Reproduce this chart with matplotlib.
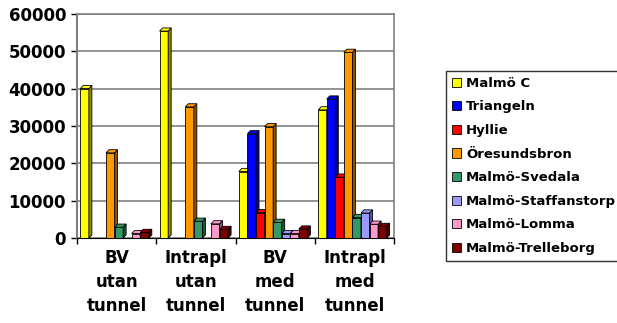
import numpy as np
import matplotlib.pyplot as plt
from matplotlib.patches import Polygon
from matplotlib.colors import to_rgb

plt.rcParams['font.family'] = ['DejaVu Sans']
plt.rcParams['font.weight'] = 'bold'

categories = ['BV\nutan\ntunnel', 'Intrapl\nutan\ntunnel', 'BV\nmed\ntunnel', 'Intrapl\nmed\ntunnel']
series = ['Malmö C', 'Triangeln', 'Hyllie', 'Öresundsbron', 'Malmö-Svedala',
          'Malmö-Staffanstorp', 'Malmö-Lomma', 'Malmö-Trelleborg']
colors = ['#FFFF00', '#0000FF', '#FF0000', '#FF9900', '#339966', '#9999FF', '#FF99CC', '#800000']

malmo_c = [40000, 55400, 17800, 34300]
triangeln = [0, 0, 27900, 37200]
hyllie = [0, 0, 6800, 16300]
oresund = [22800, 35100, 29800, 49700]
svedala = [2900, 4500, 4200, 5500]
staffanstorp = [0, 0, 1200, 6700]
lomma = [1200, 3800, 1200, 3700]
trelleborg = [1500, 2300, 2400, 3100]
values = [malmo_c, triangeln, hyllie, oresund, svedala, staffanstorp, lomma, trelleborg]

fig = plt.figure(figsize=(6.17, 3.23), dpi=100)
ax = fig.add_axes([0.125, 0.263, 0.514, 0.694])

x = np.arange(len(categories))
w = 0.108
dx, dy = 0.038, 850  # 3d depth offset

for j, (vals, c) in enumerate(zip(values, colors)):
    pos = x - 0.5 + 0.04 + w * (j + 0.5)
    ax.bar(pos, vals, w, color=c, edgecolor='black', linewidth=0.6, zorder=3,
           label=series[j])
    dark = tuple(v * 0.55 for v in to_rgb(c))
    for p, h in zip(pos, vals):
        if h <= 0:
            continue
        side = [(p + w / 2, 0), (p + w / 2 + dx, dy), (p + w / 2 + dx, h + dy), (p + w / 2, h)]
        top = [(p - w / 2, h), (p - w / 2 + dx, h + dy), (p + w / 2 + dx, h + dy), (p + w / 2, h)]
        ax.add_patch(Polygon(side, closed=True, facecolor=dark, edgecolor='black', lw=0.6, zorder=3))
        ax.add_patch(Polygon(top, closed=True, facecolor=c, edgecolor='black', lw=0.6, zorder=3))

ax.set_xlim(-0.5, 3.5)
ax.set_ylim(0, 60000)
ax.set_yticks(range(0, 60001, 10000))
ax.set_xticks(np.arange(-0.5, 4, 1), minor=True)
ax.set_xticks(x)
ax.set_xticklabels(categories, fontsize=12, fontweight='bold', linespacing=1.42)
ax.tick_params(axis='x', which='major', length=0, pad=8)
ax.tick_params(axis='x', which='minor', length=4, width=1)
ax.tick_params(axis='y', labelsize=12, length=4, width=1, pad=4)
ax.yaxis.grid(True, color='#808080', lw=1.2, zorder=0)
for s in ['top', 'right']:
    ax.spines[s].set_color('#808080')
    ax.spines[s].set_linewidth(1.2)
ax.spines['left'].set_color('#808080')
ax.spines['left'].set_linewidth(1.5)
ax.spines['bottom'].set_color('black')

leg = fig.legend(loc='upper left', bbox_to_anchor=(446 / 617, 1 - 71 / 323), borderaxespad=0,
                 frameon=True, fancybox=False, edgecolor='black',
                 prop={'weight': 'bold', 'size': 9.5},
                 handlelength=0.68, handleheight=0.68, handletextpad=0.4, labelspacing=0.8,
                 borderpad=0.45)
leg.get_frame().set_linewidth(1)

fig.savefig('out.png', dpi=100)
